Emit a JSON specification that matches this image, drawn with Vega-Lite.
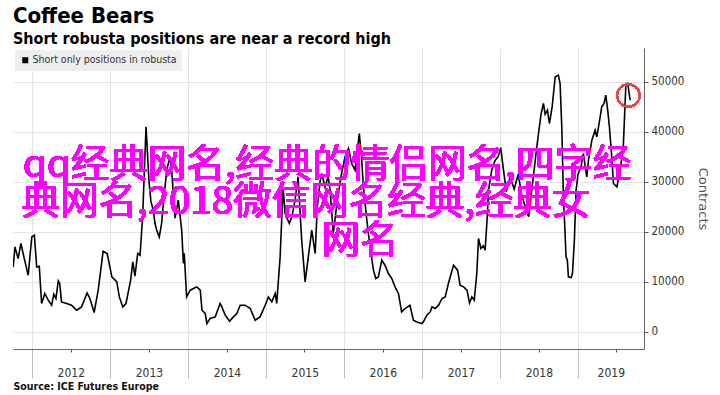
{
  "$schema": "https://vega.github.io/schema/vega-lite/v6.json",
  "width": 631,
  "height": 301,
  "autosize": {"type": "none"},
  "padding": {"left": 13, "top": 48, "right": 76, "bottom": 46},
  "background": "white",
  "config": {"view": {"stroke": null}},
  "title": {
    "text": "Coffee Bears",
    "subtitle": "Short robusta positions are near a record high",
    "anchor": "start",
    "font": "DejaVu Sans Condensed, Liberation Sans",
    "fontSize": 22,
    "fontWeight": "bold",
    "color": "#000000",
    "subtitleFont": "DejaVu Sans Condensed, Liberation Sans",
    "subtitleFontSize": 16,
    "subtitleFontWeight": "bold",
    "subtitleColor": "#000000",
    "offset": 0,
    "subtitlePadding": 3
  },
  "data": {
    "values": [
      {"date": "2011-10-06", "contracts": 12960},
      {"date": "2011-10-14", "contracts": 16960},
      {"date": "2011-10-29", "contracts": 14640},
      {"date": "2011-11-11", "contracts": 17640},
      {"date": "2011-11-25", "contracts": 14960},
      {"date": "2011-12-15", "contracts": 11300},
      {"date": "2012-01-01", "contracts": 18960},
      {"date": "2012-01-13", "contracts": 19300},
      {"date": "2012-01-24", "contracts": 12960},
      {"date": "2012-02-05", "contracts": 13100},
      {"date": "2012-02-16", "contracts": 5640},
      {"date": "2012-03-02", "contracts": 7640},
      {"date": "2012-03-18", "contracts": 6300},
      {"date": "2012-04-03", "contracts": 5300},
      {"date": "2012-04-13", "contracts": 7500},
      {"date": "2012-04-23", "contracts": 6640},
      {"date": "2012-05-04", "contracts": 10160},
      {"date": "2012-05-11", "contracts": 9640},
      {"date": "2012-05-19", "contracts": 5960},
      {"date": "2012-06-12", "contracts": 5640},
      {"date": "2012-07-05", "contracts": 5300},
      {"date": "2012-07-29", "contracts": 4300},
      {"date": "2012-08-21", "contracts": 4960},
      {"date": "2012-09-16", "contracts": 7760},
      {"date": "2012-09-29", "contracts": 6640},
      {"date": "2012-10-19", "contracts": 3840},
      {"date": "2012-11-07", "contracts": 8300},
      {"date": "2012-11-30", "contracts": 16100},
      {"date": "2012-12-19", "contracts": 15640},
      {"date": "2013-01-10", "contracts": 10960},
      {"date": "2013-02-02", "contracts": 9960},
      {"date": "2013-02-14", "contracts": 6960},
      {"date": "2013-03-02", "contracts": 4960},
      {"date": "2013-03-17", "contracts": 5640},
      {"date": "2013-04-08", "contracts": 10300},
      {"date": "2013-04-18", "contracts": 13960},
      {"date": "2013-04-28", "contracts": 11100},
      {"date": "2013-05-11", "contracts": 15640},
      {"date": "2013-05-22", "contracts": 15300},
      {"date": "2013-06-03", "contracts": 22960},
      {"date": "2013-06-19", "contracts": 41000},
      {"date": "2013-07-03", "contracts": 30000},
      {"date": "2013-07-12", "contracts": 26000},
      {"date": "2013-07-23", "contracts": 24300},
      {"date": "2013-07-31", "contracts": 21640},
      {"date": "2013-08-08", "contracts": 20300},
      {"date": "2013-08-20", "contracts": 18960},
      {"date": "2013-08-31", "contracts": 21640},
      {"date": "2013-09-08", "contracts": 25640},
      {"date": "2013-09-24", "contracts": 32300},
      {"date": "2013-10-09", "contracts": 35000},
      {"date": "2013-10-17", "contracts": 32300},
      {"date": "2013-10-26", "contracts": 27000},
      {"date": "2013-11-02", "contracts": 22700},
      {"date": "2013-11-17", "contracts": 26300},
      {"date": "2013-12-03", "contracts": 20300},
      {"date": "2013-12-11", "contracts": 13640},
      {"date": "2013-12-15", "contracts": 15700},
      {"date": "2013-12-26", "contracts": 6960},
      {"date": "2014-01-12", "contracts": 8300},
      {"date": "2014-01-27", "contracts": 8640},
      {"date": "2014-02-12", "contracts": 8960},
      {"date": "2014-02-28", "contracts": 8300},
      {"date": "2014-03-08", "contracts": 4300},
      {"date": "2014-03-23", "contracts": 3640},
      {"date": "2014-03-31", "contracts": 1640},
      {"date": "2014-04-15", "contracts": 2640},
      {"date": "2014-05-09", "contracts": 2960},
      {"date": "2014-06-01", "contracts": 5640},
      {"date": "2014-06-09", "contracts": 4960},
      {"date": "2014-06-25", "contracts": 3300},
      {"date": "2014-07-15", "contracts": 2100},
      {"date": "2014-08-02", "contracts": 2960},
      {"date": "2014-08-18", "contracts": 3640},
      {"date": "2014-09-03", "contracts": 5300},
      {"date": "2014-09-26", "contracts": 5300},
      {"date": "2014-10-20", "contracts": 4640},
      {"date": "2014-11-12", "contracts": 2300},
      {"date": "2014-12-05", "contracts": 2960},
      {"date": "2014-12-29", "contracts": 5300},
      {"date": "2015-01-13", "contracts": 6960},
      {"date": "2015-01-29", "contracts": 5960},
      {"date": "2015-02-14", "contracts": 7640},
      {"date": "2015-02-21", "contracts": 5640},
      {"date": "2015-03-09", "contracts": 14960},
      {"date": "2015-03-17", "contracts": 22960},
      {"date": "2015-03-23", "contracts": 29000},
      {"date": "2015-04-01", "contracts": 23640},
      {"date": "2015-04-21", "contracts": 21640},
      {"date": "2015-05-03", "contracts": 22960},
      {"date": "2015-05-18", "contracts": 26300},
      {"date": "2015-06-01", "contracts": 31000},
      {"date": "2015-06-18", "contracts": 18300},
      {"date": "2015-07-04", "contracts": 9960},
      {"date": "2015-07-19", "contracts": 14960},
      {"date": "2015-08-04", "contracts": 20300},
      {"date": "2015-08-20", "contracts": 15640},
      {"date": "2015-08-30", "contracts": 24960},
      {"date": "2015-09-12", "contracts": 30000},
      {"date": "2015-09-20", "contracts": 31640},
      {"date": "2015-10-05", "contracts": 28960},
      {"date": "2015-10-20", "contracts": 31000},
      {"date": "2015-10-29", "contracts": 28300},
      {"date": "2015-11-13", "contracts": 19640},
      {"date": "2015-12-01", "contracts": 26000},
      {"date": "2015-12-19", "contracts": 31000},
      {"date": "2016-01-07", "contracts": 35000},
      {"date": "2016-01-23", "contracts": 36640},
      {"date": "2016-02-07", "contracts": 33640},
      {"date": "2016-02-23", "contracts": 32300},
      {"date": "2016-03-14", "contracts": 39640},
      {"date": "2016-03-25", "contracts": 34300},
      {"date": "2016-04-02", "contracts": 28960},
      {"date": "2016-04-18", "contracts": 22300},
      {"date": "2016-05-03", "contracts": 16960},
      {"date": "2016-05-19", "contracts": 12300},
      {"date": "2016-05-30", "contracts": 10640},
      {"date": "2016-06-11", "contracts": 10960},
      {"date": "2016-06-27", "contracts": 14300},
      {"date": "2016-07-12", "contracts": 13300},
      {"date": "2016-07-28", "contracts": 11640},
      {"date": "2016-08-13", "contracts": 10640},
      {"date": "2016-08-28", "contracts": 8960},
      {"date": "2016-09-13", "contracts": 7640},
      {"date": "2016-09-28", "contracts": 3960},
      {"date": "2016-10-14", "contracts": 4640},
      {"date": "2016-11-06", "contracts": 5300},
      {"date": "2016-11-22", "contracts": 2300},
      {"date": "2016-12-08", "contracts": 1960},
      {"date": "2017-01-01", "contracts": 1640},
      {"date": "2017-01-08", "contracts": 1960},
      {"date": "2017-01-24", "contracts": 3300},
      {"date": "2017-02-09", "contracts": 3960},
      {"date": "2017-02-17", "contracts": 4960},
      {"date": "2017-03-04", "contracts": 4640},
      {"date": "2017-03-20", "contracts": 5300},
      {"date": "2017-04-05", "contracts": 6640},
      {"date": "2017-04-20", "contracts": 6960},
      {"date": "2017-05-05", "contracts": 9640},
      {"date": "2017-05-29", "contracts": 13300},
      {"date": "2017-06-17", "contracts": 12300},
      {"date": "2017-06-29", "contracts": 9300},
      {"date": "2017-07-15", "contracts": 8960},
      {"date": "2017-07-31", "contracts": 8300},
      {"date": "2017-08-12", "contracts": 5760},
      {"date": "2017-08-23", "contracts": 6960},
      {"date": "2017-09-03", "contracts": 6300},
      {"date": "2017-09-15", "contracts": 11640},
      {"date": "2017-09-23", "contracts": 18640},
      {"date": "2017-10-04", "contracts": 16640},
      {"date": "2017-10-15", "contracts": 17200},
      {"date": "2017-10-24", "contracts": 16300},
      {"date": "2017-11-01", "contracts": 21640},
      {"date": "2017-11-09", "contracts": 28300},
      {"date": "2017-11-24", "contracts": 32300},
      {"date": "2017-12-10", "contracts": 34300},
      {"date": "2017-12-24", "contracts": 35000},
      {"date": "2018-01-05", "contracts": 36800},
      {"date": "2018-01-16", "contracts": 33000},
      {"date": "2018-01-31", "contracts": 28000},
      {"date": "2018-02-18", "contracts": 31000},
      {"date": "2018-03-09", "contracts": 28500},
      {"date": "2018-03-28", "contracts": 31500},
      {"date": "2018-04-15", "contracts": 27000},
      {"date": "2018-05-04", "contracts": 24500},
      {"date": "2018-05-16", "contracts": 23000},
      {"date": "2018-05-27", "contracts": 27000},
      {"date": "2018-06-15", "contracts": 34000},
      {"date": "2018-06-29", "contracts": 39000},
      {"date": "2018-07-13", "contracts": 43500},
      {"date": "2018-07-24", "contracts": 45640},
      {"date": "2018-08-01", "contracts": 43500},
      {"date": "2018-08-12", "contracts": 44300},
      {"date": "2018-08-21", "contracts": 41640},
      {"date": "2018-09-03", "contracts": 45000},
      {"date": "2018-09-17", "contracts": 50960},
      {"date": "2018-10-02", "contracts": 51300},
      {"date": "2018-10-10", "contracts": 49640},
      {"date": "2018-10-18", "contracts": 40960},
      {"date": "2018-10-26", "contracts": 26300},
      {"date": "2018-10-31", "contracts": 22000},
      {"date": "2018-11-07", "contracts": 14960},
      {"date": "2018-11-13", "contracts": 14300},
      {"date": "2018-11-18", "contracts": 10960},
      {"date": "2018-12-01", "contracts": 10840},
      {"date": "2018-12-07", "contracts": 11640},
      {"date": "2018-12-16", "contracts": 18300},
      {"date": "2018-12-24", "contracts": 28300},
      {"date": "2019-01-02", "contracts": 31500},
      {"date": "2019-01-16", "contracts": 33000},
      {"date": "2019-01-27", "contracts": 35640},
      {"date": "2019-02-12", "contracts": 30960},
      {"date": "2019-02-20", "contracts": 34300},
      {"date": "2019-03-08", "contracts": 38300},
      {"date": "2019-03-23", "contracts": 40300},
      {"date": "2019-03-31", "contracts": 38960},
      {"date": "2019-04-12", "contracts": 41960},
      {"date": "2019-04-23", "contracts": 44960},
      {"date": "2019-05-04", "contracts": 45640},
      {"date": "2019-05-12", "contracts": 47300},
      {"date": "2019-05-21", "contracts": 44300},
      {"date": "2019-05-29", "contracts": 40960},
      {"date": "2019-06-09", "contracts": 34960},
      {"date": "2019-06-17", "contracts": 29640},
      {"date": "2019-07-03", "contracts": 28960},
      {"date": "2019-07-18", "contracts": 32300},
      {"date": "2019-08-02", "contracts": 36960},
      {"date": "2019-08-14", "contracts": 49300},
      {"date": "2019-08-23", "contracts": 49640},
      {"date": "2019-09-03", "contracts": 46300}
    ]
  },
  "layer": [
    {
      "mark": {"type": "line", "color": "#000000", "strokeWidth": 1.6, "clip": true},
      "encoding": {
        "x": {
          "field": "date",
          "type": "temporal",
          "scale": {
            "type": "utc",
            "domain": [
              {"year": 2011, "month": 10, "date": 5, "utc": true},
              {"year": 2019, "month": 11, "date": 7, "utc": true}
            ]
          },
          "axis": {
            "values": [
              {"year": 2011, "month": 10, "date": 1, "utc": true},
              {"year": 2012, "month": 1, "date": 1, "utc": true},
              {"year": 2012, "month": 4, "date": 1, "utc": true},
              {"year": 2012, "month": 7, "date": 1, "utc": true},
              {"year": 2012, "month": 10, "date": 1, "utc": true},
              {"year": 2013, "month": 1, "date": 1, "utc": true},
              {"year": 2013, "month": 4, "date": 1, "utc": true},
              {"year": 2013, "month": 7, "date": 1, "utc": true},
              {"year": 2013, "month": 10, "date": 1, "utc": true},
              {"year": 2014, "month": 1, "date": 1, "utc": true},
              {"year": 2014, "month": 4, "date": 1, "utc": true},
              {"year": 2014, "month": 7, "date": 1, "utc": true},
              {"year": 2014, "month": 10, "date": 1, "utc": true},
              {"year": 2015, "month": 1, "date": 1, "utc": true},
              {"year": 2015, "month": 4, "date": 1, "utc": true},
              {"year": 2015, "month": 7, "date": 1, "utc": true},
              {"year": 2015, "month": 10, "date": 1, "utc": true},
              {"year": 2016, "month": 1, "date": 1, "utc": true},
              {"year": 2016, "month": 4, "date": 1, "utc": true},
              {"year": 2016, "month": 7, "date": 1, "utc": true},
              {"year": 2016, "month": 10, "date": 1, "utc": true},
              {"year": 2017, "month": 1, "date": 1, "utc": true},
              {"year": 2017, "month": 4, "date": 1, "utc": true},
              {"year": 2017, "month": 7, "date": 1, "utc": true},
              {"year": 2017, "month": 10, "date": 1, "utc": true},
              {"year": 2018, "month": 1, "date": 1, "utc": true},
              {"year": 2018, "month": 4, "date": 1, "utc": true},
              {"year": 2018, "month": 7, "date": 1, "utc": true},
              {"year": 2018, "month": 10, "date": 1, "utc": true},
              {"year": 2019, "month": 1, "date": 1, "utc": true},
              {"year": 2019, "month": 4, "date": 1, "utc": true},
              {"year": 2019, "month": 7, "date": 1, "utc": true},
              {"year": 2019, "month": 10, "date": 1, "utc": true}
            ],
            "domainColor": "#666666",
            "grid": true,
            "gridColor": "#e4e4e4",
            "gridOpacity": {"condition": {"test": "utcmonth(datum.value) == 0", "value": 1}, "value": 0},
            "tickSize": {"condition": {"test": "utcmonth(datum.value) == 0", "value": 29}, "value": 3},
            "tickColor": {"condition": {"test": "utcmonth(datum.value) == 0", "value": "#bbbbbb"}, "value": "#555555"},
            "labelExpr": "utcmonth(datum.value) == 0 ? utcFormat(datum.value, '%Y') : ''",
            "labelOffset": {"condition": {"test": "utcyear(datum.value) == 2019", "value": 33}, "value": 39},
            "labelPadding": -11,
            "labelFlush": false,
            "labelOverlap": false,
            "labelBound": false,
            "labelFont": "DejaVu Sans Condensed, Liberation Sans",
            "labelFontSize": 12,
            "labelColor": "#333333",
            "title": "Source: ICE Futures Europe",
            "titleAnchor": "start",
            "titleAlign": "left",
            "titleFont": "DejaVu Sans Condensed, Liberation Sans",
            "titleFontWeight": "bold",
            "titleFontSize": 10.5,
            "titleColor": "#111111",
            "titlePadding": 3
          }
        },
        "y": {
          "field": "contracts",
          "type": "quantitative",
          "scale": {"domain": [-3460, 56740], "nice": false, "zero": false},
          "axis": {
            "orient": "right",
            "values": [0, 5000, 10000, 15000, 20000, 25000, 30000, 35000, 40000, 45000, 50000],
            "labelExpr": "datum.value % 10000 == 0 ? format(datum.value, 'd') : ''",
            "grid": true,
            "gridColor": "#e4e4e4",
            "gridOpacity": {"condition": {"test": "datum.value % 10000 == 0", "value": 1}, "value": 0},
            "domainColor": "#666666",
            "tickColor": "#555555",
            "tickSize": 4,
            "labelPadding": 3,
            "labelFont": "DejaVu Sans Condensed, Liberation Sans",
            "labelFontSize": 11.5,
            "labelColor": "#333333",
            "title": "Contracts",
            "titleFont": "DejaVu Sans",
            "titleFontSize": 13,
            "titleFontWeight": "normal",
            "titleColor": "#555555",
            "titlePadding": 12
          }
        },
        "color": {
          "datum": "Short only positions in robusta",
          "scale": {"range": ["#000000"]},
          "legend": {
            "orient": "top-left",
            "offset": 2,
            "title": null,
            "fillColor": "#eeeeee",
            "padding": 5,
            "symbolType": "square",
            "symbolSize": 36,
            "symbolFillColor": "#000000",
            "symbolStrokeColor": "#000000",
            "symbolStrokeWidth": 0,
            "labelFont": "DejaVu Sans Condensed, Liberation Sans",
            "labelFontSize": 10.5,
            "labelColor": "#333333",
            "labelOffset": 2
          }
        }
      }
    },
    {
      "mark": {"type": "point", "shape": "circle", "filled": false, "size": 506, "stroke": "#e34a4a", "strokeWidth": 1.5},
      "encoding": {
        "x": {"datum": {"year": 2019, "month": 8, "date": 26, "utc": true}, "type": "temporal"},
        "y": {"datum": 47240, "type": "quantitative"}
      }
    },
    {
      "mark": {"type": "text", "font": "Noto Sans CJK SC", "fontSize": 38.5, "color": "#ff00ff", "align": "center", "baseline": "middle"},
      "encoding": {
        "x": {"datum": {"year": 2015, "month": 10, "date": 15, "utc": true}, "type": "temporal"},
        "y": {"datum": 33300, "type": "quantitative"},
        "text": {"value": "qq经典网名,经典的情侣网名,四字经"}
      }
    },
    {
      "mark": {"type": "text", "font": "Noto Sans CJK SC", "fontSize": 38.5, "color": "#ff00ff", "align": "center", "baseline": "middle"},
      "encoding": {
        "x": {"datum": {"year": 2015, "month": 7, "date": 8, "utc": true}, "type": "temporal"},
        "y": {"datum": 26000, "type": "quantitative"},
        "text": {"value": "典网名,2018微信网名经典,经典女"}
      }
    },
    {
      "mark": {"type": "text", "font": "Noto Sans CJK SC", "fontSize": 38.5, "color": "#ff00ff", "align": "center", "baseline": "middle"},
      "encoding": {
        "x": {"datum": {"year": 2016, "month": 3, "date": 17, "utc": true}, "type": "temporal"},
        "y": {"datum": 18100, "type": "quantitative"},
        "text": {"value": "网名"}
      }
    }
  ]
}
